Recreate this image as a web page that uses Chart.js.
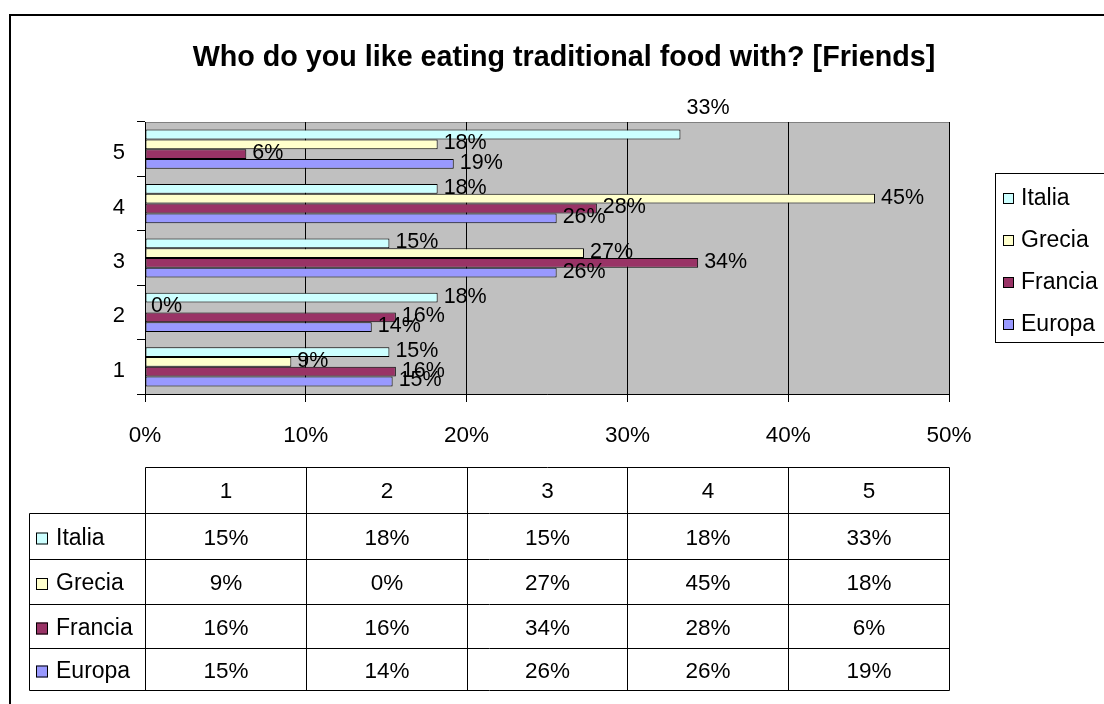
<!DOCTYPE html>
<html>
<head>
<meta charset="utf-8">
<script src="https://cdn.jsdelivr.net/npm/chart.js@4.4.0/dist/chart.umd.min.js"></script>
<style>
  html, body { margin: 0; padding: 0; background: #fff; overflow: hidden; }
  #wrap { position: relative; width: 1104px; height: 704px; }
</style>
</head>
<body>
<div id="wrap"><canvas id="c" width="1104" height="704"></canvas></div>
<script>
// Answer categories (1..5) and the share of answers per country, in percent
const categories = ['1', '2', '3', '4', '5'];
const italia  = [15.2, 18.2, 15.2, 18.2, 33.3];
const grecia  = [9.1, 0, 27.3, 45.4, 18.2];
const francia = [15.6, 15.6, 34.4, 28.1, 6.3];
const europa  = [15.4, 14.1, 25.6, 25.6, 19.2];
const seriesNames  = ['Italia', 'Grecia', 'Francia', 'Europa'];
const seriesColors = ['#CCFFFF', '#FFFFCC', '#993366', '#9999FF'];
const xTickValues  = [0, 10, 20, 30, 40, 50];
const chartTitle   = 'Who do you like eating traditional food with? [Friends]';

// the one bar label that sits raised above its bar (series, category) -> dy
const labelNudge = { 'Italia|5': -25 };

const FONT = 'Arial, "Liberation Sans", sans-serif';
const pct = v => Math.round(v) + '%';
const allSeries = [italia, grecia, francia, europa];

// Horizontal bars list the highest category on top, so the chart uses reversed copies
const chartLabels = categories.slice().reverse();
const datasets = allSeries.map((vals, i) => ({
  label: seriesNames[i],
  data: vals.slice().reverse(),
  backgroundColor: seriesColors[i],
  borderColor: '#000',
  borderWidth: 1,
  borderSkipped: false,
  categoryPercentage: 0.72,
  barPercentage: 1.0
}));

// Grey plot background, outer chart frame and title
const backdrop = {
  id: 'backdrop',
  beforeDraw(chart) {
    const { ctx, chartArea: a } = chart;
    ctx.save();
    ctx.fillStyle = '#fff';
    ctx.fillRect(0, 0, chart.width, chart.height);
    ctx.fillStyle = '#C0C0C0';
    ctx.fillRect(a.left, a.top, a.right - a.left, a.bottom - a.top);
    ctx.strokeStyle = '#808080';
    ctx.lineWidth = 1;
    ctx.strokeRect(a.left + 0.5, a.top + 0.5, a.right - a.left, a.bottom - a.top);
    // outer frame, running past the right and bottom edges of the page
    ctx.strokeStyle = '#000';
    ctx.lineWidth = 2;
    ctx.strokeRect(10, 15, 1120, 720);
    // title
    ctx.fillStyle = '#000';
    ctx.font = 'bold 28.7px ' + FONT;
    ctx.textAlign = 'center';
    ctx.textBaseline = 'middle';
    ctx.fillText(chartTitle, 564, 58);
    ctx.restore();
  }
};

// Percent labels at the end of each bar
const barLabels = {
  id: 'barLabels',
  afterDatasetsDraw(chart) {
    const { ctx } = chart;
    ctx.save();
    ctx.fillStyle = '#000';
    ctx.font = '21.5px ' + FONT;
    ctx.textAlign = 'left';
    ctx.textBaseline = 'middle';
    chart.data.datasets.forEach((ds, di) => {
      const meta = chart.getDatasetMeta(di);
      meta.data.forEach((el, i) => {
        const dy = labelNudge[ds.label + '|' + chart.data.labels[i]] || 0;
        ctx.fillText(pct(ds.data[i]), el.x + 6, el.y - 1 + dy);
      });
    });
    ctx.restore();
  }
};

// Legend box on the right
const legendBox = {
  id: 'legendBox',
  afterDraw(chart) {
    const { ctx } = chart;
    ctx.save();
    ctx.fillStyle = '#fff';
    ctx.fillRect(995, 173, 140, 169);
    ctx.strokeStyle = '#000';
    ctx.lineWidth = 1;
    ctx.strokeRect(995.5, 173.5, 140, 169);
    ctx.font = '23px ' + FONT;
    ctx.textAlign = 'left';
    ctx.textBaseline = 'middle';
    seriesNames.forEach((name, i) => {
      const y = 198 + i * 42;
      ctx.fillStyle = seriesColors[i];
      ctx.fillRect(1003, y - 5, 11, 11);
      ctx.strokeStyle = '#000';
      ctx.strokeRect(1003.5, y - 4.5, 10, 10);
      ctx.fillStyle = '#000';
      ctx.fillText(name, 1021, y + 1);
    });
    ctx.restore();
  }
};

// Data table under the axis, its columns aligned to the x gridlines
const dataTable = {
  id: 'dataTable',
  afterDraw(chart) {
    const { ctx } = chart;
    const xs = chart.scales.x;
    const cols = xTickValues.map(v => Math.round(xs.getPixelForValue(v)) + 0.5);
    const rowsY = [467.5, 513.5, 559.5, 604.5, 648.5, 690.5];
    const labelLeft = 29.5;
    ctx.save();
    ctx.strokeStyle = '#000';
    ctx.lineWidth = 1;
    ctx.beginPath();
    ctx.moveTo(cols[0], rowsY[0]); ctx.lineTo(cols[cols.length - 1], rowsY[0]);
    for (let r = 1; r < rowsY.length; r++) {
      ctx.moveTo(labelLeft, rowsY[r]); ctx.lineTo(cols[cols.length - 1], rowsY[r]);
    }
    cols.forEach(x => { ctx.moveTo(x, rowsY[0]); ctx.lineTo(x, rowsY[rowsY.length - 1]); });
    ctx.moveTo(labelLeft, rowsY[1]); ctx.lineTo(labelLeft, rowsY[rowsY.length - 1]);
    ctx.stroke();

    ctx.fillStyle = '#000';
    ctx.font = '22.5px ' + FONT;
    ctx.textBaseline = 'middle';
    ctx.textAlign = 'center';
    categories.forEach((c, i) => {
      ctx.fillText(c, (cols[i] + cols[i + 1]) / 2, (rowsY[0] + rowsY[1]) / 2 + 1);
    });
    allSeries.forEach((vals, s) => {
      const cy = (rowsY[s + 1] + rowsY[s + 2]) / 2 + 2;
      ctx.font = '22.5px ' + FONT;
      ctx.textAlign = 'center';
      vals.forEach((v, i) => {
        ctx.fillText(pct(v), (cols[i] + cols[i + 1]) / 2, cy);
      });
      ctx.fillStyle = seriesColors[s];
      ctx.fillRect(36, cy - 6, 12, 12);
      ctx.strokeRect(36.5, cy - 5.5, 11, 11);
      ctx.fillStyle = '#000';
      ctx.font = '23px ' + FONT;
      ctx.textAlign = 'left';
      ctx.fillText(seriesNames[s], 56, cy);
    });
    ctx.restore();
  }
};

new Chart(document.getElementById('c'), {
  type: 'bar',
  data: { labels: chartLabels, datasets },
  options: {
    indexAxis: 'y',
    responsive: false,
    devicePixelRatio: 1,
    animation: false,
    layout: { padding: { top: 122, right: 155, bottom: 250, left: 0 } },
    plugins: { legend: { display: false }, title: { display: false }, tooltip: { enabled: false } },
    scales: {
      x: {
        min: 0, max: 50,
        afterBuildTicks: s => { s.ticks = xTickValues.map(v => ({ value: v })); },
        afterFit: s => { s.height = 60; },
        ticks: { callback: v => v + '%', color: '#000', font: { family: FONT, size: 22.5 }, padding: 20, maxRotation: 0 },
        grid: { color: '#000', lineWidth: 1, tickLength: 8, tickColor: '#000' },
        border: { color: '#000' }
      },
      y: {
        afterFit: s => { s.width = 145; },
        ticks: { color: '#000', font: { family: FONT, size: 22 }, padding: 12, labelOffset: 4 },
        grid: { drawOnChartArea: false, offset: true, tickLength: 8, tickColor: '#000' },
        border: { color: '#000' }
      }
    }
  },
  plugins: [backdrop, barLabels, legendBox, dataTable]
});
</script>
</body>
</html>
